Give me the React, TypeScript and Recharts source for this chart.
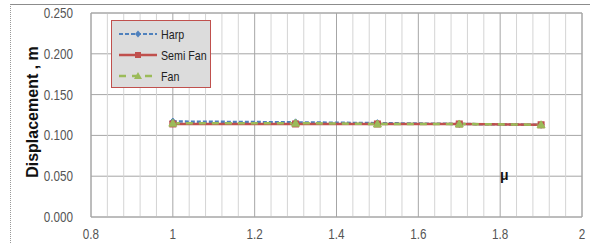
import React from 'react';
import { LineChart, Line, XAxis, YAxis, CartesianGrid, ReferenceLine, ReferenceDot } from 'recharts';

const muValues = [1.0, 1.3, 1.5, 1.7, 1.9];
const harp = [0.117, 0.116, 0.115, 0.114, 0.113];
const semiFan = [0.114, 0.114, 0.114, 0.114, 0.113];
const fan = [0.115, 0.115, 0.114, 0.114, 0.113];

const xTicks = [0.8, 1, 1.2, 1.4, 1.6, 1.8, 2];
const yTicks = [0, 0.05, 0.1, 0.15, 0.2, 0.25];
const minorXTicks = [0.84, 0.88, 0.92, 0.96, 1.04, 1.08, 1.12, 1.16, 1.24, 1.28, 1.32, 1.36, 1.44, 1.48, 1.52, 1.56, 1.64, 1.68, 1.72, 1.76, 1.84, 1.88, 1.92, 1.96];
const seriesNames = ['Harp', 'Semi Fan', 'Fan'];

const data = muValues.map((m, i) => ({ mu: m, harp: harp[i], semiFan: semiFan[i], fan: fan[i] }));

const FONT = '"Liberation Sans", Arial, sans-serif';
const BLUE = '#4f81bd';
const RED = '#c0504d';
const GREEN = '#9bbb59';

const Diamond = (props: any) => {
  const { cx, cy } = props;
  if (cx == null || cy == null) return null;
  return <path d={`M${cx},${cy - 3.5}L${cx + 3},${cy}L${cx},${cy + 3.5}L${cx - 3},${cy}Z`} fill={BLUE} stroke={BLUE} />;
};
const Square = (props: any) => {
  const { cx, cy } = props;
  if (cx == null || cy == null) return null;
  return <rect x={cx - 3} y={cy - 3} width={6} height={6} fill={RED} stroke={RED} />;
};
const Tri = (props: any) => {
  const { cx, cy } = props;
  if (cx == null || cy == null) return null;
  return <path d={`M${cx},${cy - 4}L${cx + 4},${cy + 3}L${cx - 4},${cy + 3}Z`} fill={GREEN} stroke={GREEN} />;
};

const YTick = (props: any) => {
  const { x, y, payload } = props;
  return (
    <g transform={`translate(${x},${y}) scale(0.78,1)`}>
      <text x={0} y={0} dy={5} textAnchor="end" fill="#555" fontSize={15} fontFamily={FONT}>{Number(payload.value).toFixed(3)}</text>
    </g>
  );
};
const XTick = (props: any) => {
  const { x, y, payload } = props;
  return (
    <g transform={`translate(${x},${y}) scale(0.78,1)`}>
      <text x={0} y={0} dy={14} textAnchor="middle" fill="#555" fontSize={15} fontFamily={FONT}>{String(payload.value)}</text>
    </g>
  );
};

const LegendBox = () => {
  const rows = [
    { name: seriesNames[0], color: BLUE, dash: '4 2', marker: 'd', w: 2 },
    { name: seriesNames[1], color: RED, dash: undefined, marker: 's', w: 2.5 },
    { name: seriesNames[2], color: GREEN, dash: '7 6', marker: 't', w: 2.5 },
  ];
  return (
    <div style={{ position: 'absolute', left: 111, top: 20, width: 98, height: 66, background: '#dcdcdc', border: '1px solid ' + RED, fontFamily: FONT, fontSize: 13, color: '#222' }}>
      {rows.map((r, i) => (
        <div key={r.name} style={{ position: 'absolute', left: 6, top: 5 + i * 21, height: 16, display: 'flex', alignItems: 'center' }}>
          <svg width={40} height={14} style={{ display: 'block' }}>
            <line x1={1} y1={7} x2={39} y2={7} stroke={r.color} strokeWidth={r.w} strokeDasharray={r.dash} />
            {r.marker === 'd' && <path d="M20,3.5L23,7L20,10.5L17,7Z" fill={r.color} />}
            {r.marker === 's' && <rect x={17} y={4} width={6} height={6} fill={r.color} />}
            {r.marker === 't' && <path d="M20,3L24,10L16,10Z" fill={r.color} />}
          </svg>
          <span style={{ marginLeft: 3, whiteSpace: 'nowrap', display: 'inline-block', transform: 'scaleX(0.82)', transformOrigin: 'left center' }}>{r.name}</span>
        </div>
      ))}
    </div>
  );
};

export default function App() {
  return (
    <div style={{ position: 'absolute', left: 0, top: 0, width: 590, height: 243, background: '#fff', overflow: 'hidden' }}>
      <div style={{ position: 'absolute', left: 10, top: 4, width: 590, height: 260, borderTop: '1px solid #8c8c8c', borderLeft: '1px dotted #999' }} />
      <div style={{ position: 'absolute', left: 0, top: 0 }}>
        <LineChart width={590} height={243} data={data} margin={{ top: 13, right: 8, bottom: 0, left: 0 }}>
          <CartesianGrid stroke="#a6a6a6" horizontal={true} vertical={false} />
          {minorXTicks.map((t) => (
            <ReferenceLine key={t} x={t} stroke="#d4d4d4" strokeWidth={1} />
          ))}
          {xTicks.map((t) => (
            <ReferenceLine key={'M' + t} x={t} stroke="#a6a6a6" strokeWidth={1} />
          ))}
          <XAxis
            dataKey="mu"
            type="number"
            domain={[0.8, 2]}
            ticks={xTicks}
            tickLine={false}
            axisLine={{ stroke: '#a6a6a6' }}
            tick={<XTick />}
            height={26}
          />
          <YAxis
            type="number"
            domain={[0, 0.25]}
            ticks={yTicks}
            width={91}
            tickLine={false}
            axisLine={{ stroke: '#a6a6a6' }}
            tick={<YTick />}
            tickMargin={12}
            label={{ value: 'Displacement , m', angle: -90, position: 'insideLeft', offset: 0, dx: 32, dy: -3, style: { fontFamily: FONT, fontWeight: 'bold', fontSize: 16, fill: '#111', textAnchor: 'middle' } }}
          />
          <ReferenceLine y={0.25} stroke="#a6a6a6" />
          <ReferenceLine x={2} stroke="#a6a6a6" />
          <Line type="linear" dataKey="harp" name={seriesNames[0]} stroke={BLUE} strokeWidth={2.5} strokeDasharray="4 2" dot={<Diamond />} isAnimationActive={false} />
          <Line type="linear" dataKey="semiFan" name={seriesNames[1]} stroke={RED} strokeWidth={2.5} dot={<Square />} isAnimationActive={false} />
          <Line type="linear" dataKey="fan" name={seriesNames[2]} stroke={GREEN} strokeWidth={2.5} strokeDasharray="7 6" dot={<Tri />} isAnimationActive={false} />
          <ReferenceDot x={1.81} y={0.052} r={0} fill="none" stroke="none" label={{ value: 'μ', position: 'center', style: { fontFamily: FONT, fontWeight: 'bold', fontSize: 14, fill: '#111' } }} />
        </LineChart>
      </div>
      <LegendBox />
    </div>
  );
}
